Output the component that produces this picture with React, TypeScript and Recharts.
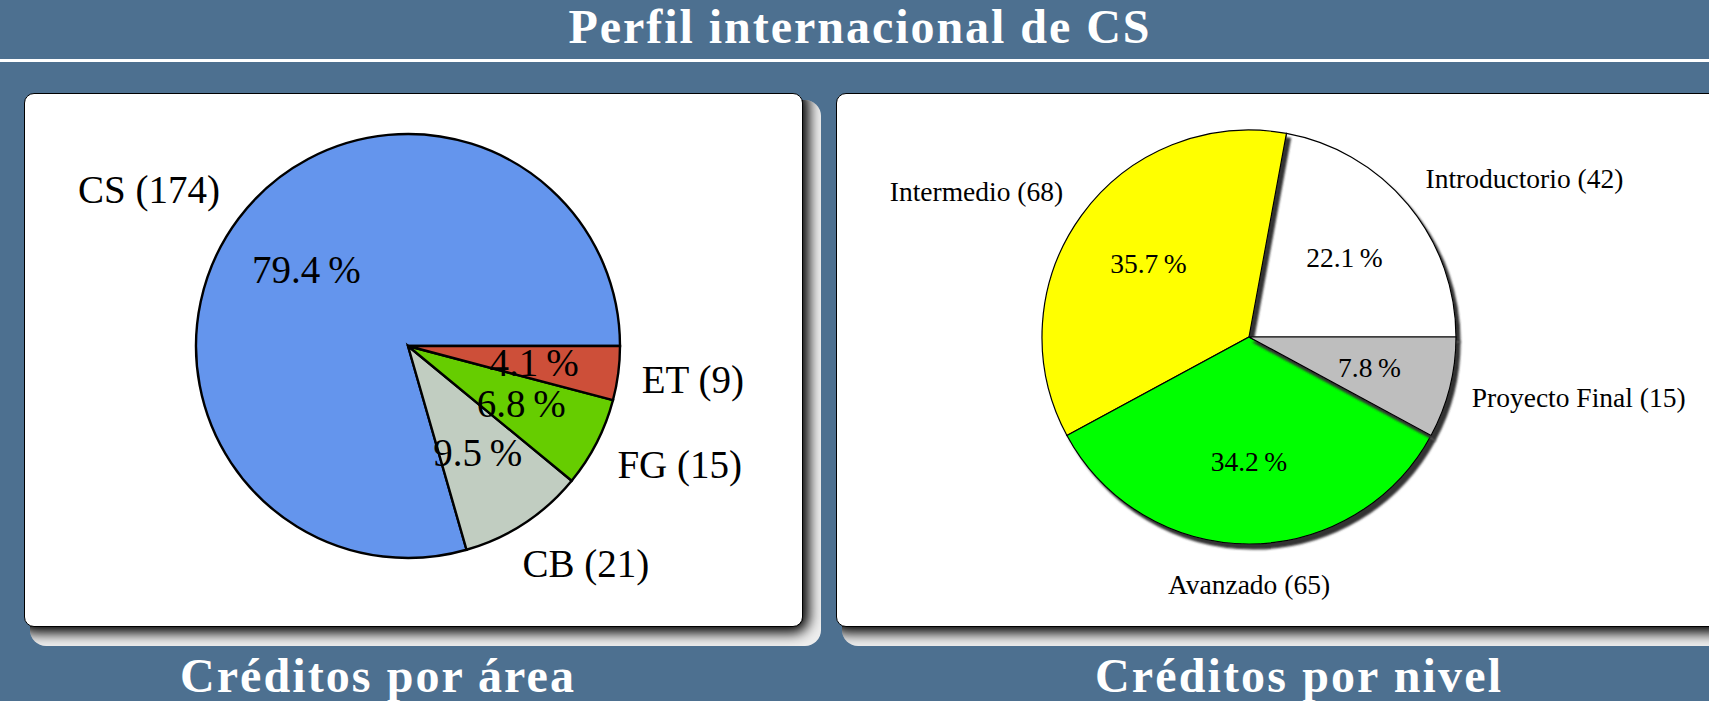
import { PieChart, Pie, Cell } from "recharts";

// Créditos por área
const areaNames = ["CS", "CB", "FG", "ET"];
const areaCredits = [174, 21, 15, 9];
const areaPct = ["79.4", "9.5", "6.8", "4.1"];
const areaColors = ["#6495ED", "#C1CDC1", "#66CD00", "#CD4F39"];

// Créditos por nivel
const levelNames = ["Introductorio", "Intermedio", "Avanzado", "Proyecto Final"];
const levelCredits = [42, 68, 65, 15];
const levelPct = ["22.1", "35.7", "34.2", "7.8"];
const levelColors = ["#FFFFFF", "#FFFF00", "#00FF00", "#BEBEBE"];

const BG = "#4D7090";
const SERIF = "'Liberation Serif', 'DejaVu Serif', serif";
const RAD = Math.PI / 180;

const areaData = areaNames.map((n, i) => ({ name: n, value: areaCredits[i], pct: areaPct[i] }));
const levelData = levelNames.map((n, i) => ({ name: n, value: levelCredits[i], pct: levelPct[i] }));

let canvas: HTMLCanvasElement | null = null;
const textWidth = (text: string, size: number) => {
  if (!canvas) canvas = document.createElement("canvas");
  const ctx = canvas.getContext("2d");
  if (!ctx) return text.length * size * 0.5;
  ctx.font = `${size}px ${SERIF}`;
  return ctx.measureText(text).width;
};

// label placement roughly like pgf-pie: name outside, percentage at 0.6 r
const makeLabel = (fontSize: number) => (props: any) => {
  const { cx, cy, midAngle, outerRadius, payload } = props;
  const dx = Math.cos(-midAngle * RAD);
  const dy = Math.sin(-midAngle * RAD);
  const text = `${payload.name} (${payload.value})`;
  const hw = textWidth(text, fontSize) / 2;
  const f = Math.max(-1, Math.min(1, dx * 1.4));
  const ox = cx + 1.11 * outerRadius * dx + hw * f;
  const oy = cy + 1.11 * outerRadius * dy + fontSize * 0.65 * dy;
  const ix = cx + 0.6 * outerRadius * dx;
  const iy = cy + 0.6 * outerRadius * dy;
  return (
    <g>
      <text x={ox} y={oy} textAnchor="middle" dominantBaseline="central"
        fontFamily={SERIF} fontSize={fontSize} fill="#000">
        {text}
      </text>
      <text x={ix} y={iy} textAnchor="middle" dominantBaseline="central"
        fontFamily={SERIF} fontSize={fontSize} fill="#000">
        {`${payload.pct}\u2009%`}
      </text>
    </g>
  );
};

const Panel = ({ left, top, width, height }: { left: number; top: number; width: number; height: number }) => (
  <>
    {/* beamer style shadow: dark near the box, fading to light */}
    <div
      style={{
        position: "absolute", left: left + 6, top: top + 7, width: width + 12, height: height + 12,
        borderRadius: 16, overflow: "hidden", background: "#eeeeee",
      }}
    >
      <div
        style={{
          position: "absolute", left: -6, top: -7, width, height, borderRadius: 10,
          background: "#000", boxShadow: "0 0 13px 6px #000",
        }}
      />
    </div>
    <div
      style={{
        position: "absolute", left, top, width, height, boxSizing: "border-box",
        background: "#fff", border: "1.5px solid #000", borderRadius: 10,
      }}
    />
  </>
);

export default function App() {
  return (
    <div style={{ position: "absolute", left: 0, top: 0, width: 1709, height: 701, overflow: "hidden", background: BG }}>
      <svg width={0} height={0} style={{ position: "absolute" }}>
        <defs>
          <filter id="sliceShadow" x="-20%" y="-20%" width="140%" height="140%">
            <feDropShadow dx={4} dy={5} stdDeviation={0.8} floodColor="#333" floodOpacity={1} />
          </filter>
        </defs>
      </svg>

      <Panel left={24} top={93} width={779} height={534} />
      <Panel left={836} top={93} width={940} height={534} />

      <svg width={1709} height={701} style={{ position: "absolute", left: 0, top: 0 }}>
        <rect x={0} y={59} width={1709} height={3} fill="#fff" />
        <text x={859} y={43} textAnchor="middle" fontFamily={SERIF} fontWeight="bold" fontSize={48}
          fill="#fff" textLength={581} lengthAdjust="spacing">
          Perfil internacional de CS
        </text>
        <text x={377} y={692} textAnchor="middle" fontFamily={SERIF} fontWeight="bold" fontSize={48}
          fill="#fff" textLength={394} lengthAdjust="spacing">
          Créditos por área
        </text>
        <text x={1298} y={692} textAnchor="middle" fontFamily={SERIF} fontWeight="bold" fontSize={48}
          fill="#fff" textLength={406} lengthAdjust="spacing">
          Créditos por nivel
        </text>
      </svg>

      <div style={{ position: "absolute", left: 24, top: 93 }}>
        <PieChart width={779} height={534} margin={{ top: 0, right: 0, bottom: 0, left: 0 }}>
          <Pie
            data={areaData}
            dataKey="value"
            cx={384}
            cy={253}
            outerRadius={212}
            startAngle={0}
            endAngle={360}
            stroke="#000"
            strokeWidth={2.4}
            label={makeLabel(39)}
            labelLine={false}
            isAnimationActive={false}
          >
            {areaData.map((d, i) => (
              <Cell key={d.name} fill={areaColors[i]} />
            ))}
          </Pie>
        </PieChart>
      </div>

      <div style={{ position: "absolute", left: 836, top: 93 }}>
        <PieChart width={873} height={534} margin={{ top: 0, right: 0, bottom: 0, left: 0 }}>
          <Pie
            data={levelData}
            dataKey="value"
            cx={413}
            cy={244}
            outerRadius={207}
            startAngle={0}
            endAngle={360}
            stroke="#000"
            strokeWidth={1.2}
            label={makeLabel(27.5)}
            labelLine={false}
            isAnimationActive={false}
          >
            {levelData.map((d, i) => (
              <Cell key={d.name} fill={levelColors[i]} filter="url(#sliceShadow)" />
            ))}
          </Pie>
        </PieChart>
      </div>
    </div>
  );
}
